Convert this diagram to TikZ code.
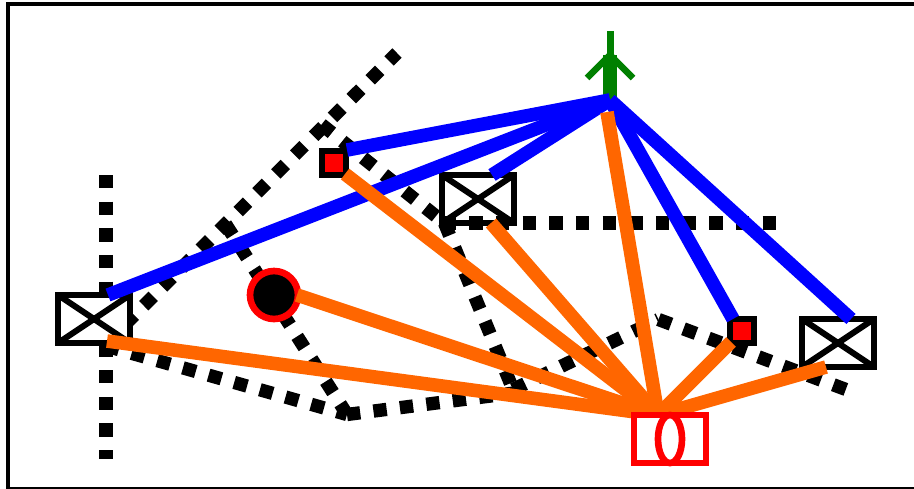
\documentclass[tikz,border=0pt]{standalone}
\definecolor{lineblue}{HTML}{0000FF}
\definecolor{lineorange}{HTML}{FF6600}
\definecolor{markred}{HTML}{FF0000}
\definecolor{mastgreen}{HTML}{008000}
\tikzset{
  dots/.style={line width=13.33pt,black,dash pattern=on 13.33pt off 13.33pt},
  bluelink/.style={line width=13.6pt,lineblue},
  orangelink/.style={line width=13.6pt,lineorange},
  crossbox/.style={draw=black,fill=white,line width=6.67pt,rectangle,minimum width=72pt,minimum height=48pt,inner sep=0pt,outer sep=0pt},
  crossline/.style={line width=6pt,black},
  smallsq/.style={draw=black,fill=markred,line width=6pt,rectangle,minimum size=24pt,inner sep=0pt,outer sep=0pt},
  disc/.style={draw=markred,fill=black,line width=6.67pt,circle,minimum size=48pt,inner sep=0pt,outer sep=0pt},
  redbox/.style={draw=markred,fill=white,line width=6.67pt,rectangle,minimum width=72pt,minimum height=48pt,inner sep=0pt,outer sep=0pt},
  redoval/.style={draw=markred,line width=6.67pt,ellipse,minimum width=24pt,minimum height=48pt,inner sep=0pt,outer sep=0pt},
}
\usetikzlibrary{shapes.geometric}
\begin{document}
\begin{tikzpicture}[x=1pt,y=-1pt]
\useasboundingbox (0,0) rectangle (914,488);
\clip (0,0) rectangle (914,488);
\draw[line width=4pt,black] (8,4) rectangle (920,489);
% free ends and junctions of the dotted network
\coordinate (vtop) at (106,175);
\coordinate (vbot) at (106,459);
\coordinate (j0) at (106,343.4);
\coordinate (j0b) at (106,346);
\coordinate (dtip) at (397,53);
\coordinate (j1) at (225.5,224);
\coordinate (j2) at (347,414.5);
\coordinate (j3) at (513,389.5);
\coordinate (j3b) at (514,393);
\coordinate (j4) at (658.5,319.5);
\coordinate (fend) at (846,389.5);
\coordinate (j5) at (321.5,124.5);
\coordinate (j6) at (444.5,223);
\coordinate (hl) at (442.6,223);
\coordinate (hr) at (776,223);
\coordinate (mast) at (610,100);
\coordinate (masttop) at (610,31);
\coordinate (mastmid) at (610,55);
\coordinate (armL) at (587,78);
\coordinate (armR) at (633,78);
\coordinate (sink) at (658,415);
% dotted network
\draw[dots] (vtop) -- (j0);
\draw[dots] (j0) -- (vbot);
\draw[dots] (j0) -- (dtip);
\draw[dots] (j1) -- (j2);
\draw[dots] (j0b) -- (j2);
\draw[dots] (j2) -- (j3b);
\draw[dots] (j3) -- (j4);
\draw[dots] (j4) -- (fend);
\draw[dots] (j5) -- (j6);
% stations
\node[crossbox] (b1) at (94,319) {};
\node[crossbox] (b2) at (478,199) {};
\node[crossbox] (b3) at (838,343) {};
\foreach \b in {b1,b2,b3}{
  \draw[crossline] (\b.north west) -- (\b.south east);
  \draw[crossline] (\b.south west) -- (\b.north east);
}
\node[smallsq] (s1) at (334,163) {};
\node[smallsq] (s2) at (742,331) {};
\node[disc] (c1) at (274,295) {};
\draw[dots] (hl) -- (hr);
\draw[dots] (j6) -- (j3);
% mast
\draw[line width=7pt,mastgreen] (masttop) -- (mastmid);
\draw[line width=13.33pt,mastgreen] (mastmid) -- (mast);
\draw[line width=6.67pt,mastgreen] (armL) -- (mastmid) -- (armR);
% blue links
\draw[bluelink] (mast) -- ([shift={(14,-24)}]b1.center);
\draw[bluelink] (mast) -- ([shift={(13,-13)}]s1.center);
\draw[bluelink] (mast) -- ([shift={(14,-24)}]b2.center);
\draw[bluelink] (mast) -- ([shift={(-9,-12)}]s2.center);
\draw[bluelink] (mast) -- ([shift={(13,-24)}]b3.center);
% orange links
\draw[orangelink] (sink) -- ([shift={(13,22)}]b1.center);
\draw[orangelink] (sink) -- ([shift={(23,0)}]c1.center);
\draw[orangelink] (sink) -- ([shift={(11,11)}]s1.center);
\draw[orangelink] (sink) -- ([shift={(13,24)}]b2.center);
\draw[orangelink] (sink) -- ([shift={(-3,12)}]mast);
\draw[orangelink] (sink) -- ([shift={(-11,11)}]s2.center);
\draw[orangelink] (sink) -- ([shift={(-12,24)}]b3.center);
% receiver
\node[redbox] (r) at (670,439) {};
\node[redoval] (rv) at (670,439) {};
\end{tikzpicture}
\end{document}
